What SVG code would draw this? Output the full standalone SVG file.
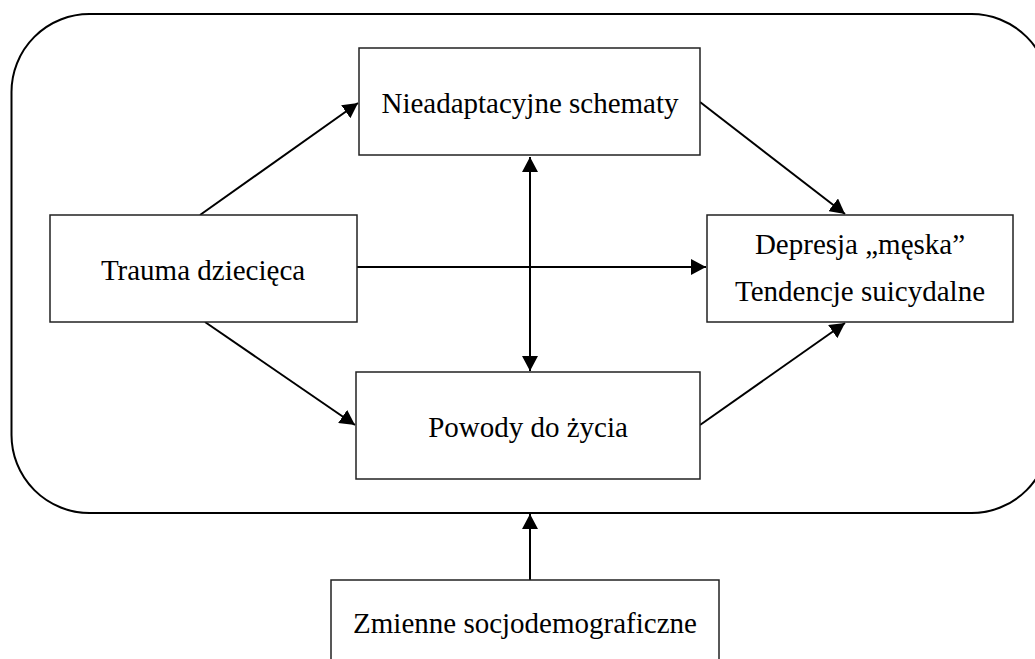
<svg xmlns="http://www.w3.org/2000/svg" width="1035" height="659" viewBox="0 0 1035 659">
  <style>
    .box { fill: #ffffff; stroke: #222222; stroke-width: 1.5; }
    .frame { fill: none; stroke: #000000; stroke-width: 2; }
    .edge { fill: none; stroke: #000000; stroke-width: 2; }
    .label { font-family: "Liberation Serif", "Times New Roman", serif; font-size: 29px; fill: #000000; text-anchor: middle; }
  </style>
  <defs>
    <marker id="arrow" markerUnits="userSpaceOnUse" markerWidth="16" markerHeight="16" refX="15" refY="8" orient="auto-start-reverse">
      <path d="M0,0 L15,8 L0,16 z" fill="#000000"/>
    </marker>
  </defs>

  <rect x="11.5" y="14" width="1038" height="499" rx="78" ry="78" class="frame"/>

  <g id="connectors">
    <line x1="200" y1="215" x2="358" y2="103" class="edge" marker-end="url(#arrow)"/>
    <line x1="205" y1="322" x2="355" y2="425" class="edge" marker-end="url(#arrow)"/>
    <line x1="357" y1="267" x2="706" y2="267" class="edge" marker-end="url(#arrow)"/>
    <line x1="530" y1="157" x2="530" y2="371" class="edge" marker-start="url(#arrow)" marker-end="url(#arrow)"/>
    <line x1="700" y1="102" x2="845" y2="214" class="edge" marker-end="url(#arrow)"/>
    <line x1="700" y1="425" x2="845" y2="323" class="edge" marker-end="url(#arrow)"/>
    <line x1="530" y1="580" x2="530" y2="514" class="edge" marker-end="url(#arrow)"/>
  </g>

  <g id="node-schematy">
    <rect x="359" y="48" width="341" height="107" class="box"/>
    <text x="530" y="113" class="label">Nieadaptacyjne schematy</text>
  </g>

  <g id="node-trauma">
    <rect x="50" y="215" width="307" height="107" class="box"/>
    <text x="203" y="280" class="label">Trauma dziecięca</text>
  </g>

  <g id="node-depresja">
    <rect x="707" y="215" width="306" height="107" class="box"/>
    <text x="860" y="254" class="label">Depresja „męska”</text>
    <text x="860" y="301" class="label">Tendencje suicydalne</text>
  </g>

  <g id="node-powody">
    <rect x="356" y="372" width="344" height="107" class="box"/>
    <text x="528" y="437" class="label">Powody do życia</text>
  </g>

  <g id="node-zmienne">
    <rect x="331" y="580" width="388" height="95" class="box"/>
    <text x="525" y="633" class="label">Zmienne socjodemograficzne</text>
  </g>
</svg>
